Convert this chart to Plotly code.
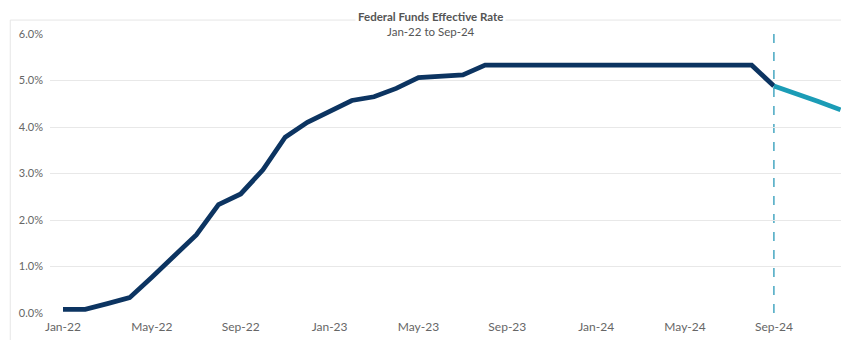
import plotly.graph_objects as go

months = ["Jan-22","Feb-22","Mar-22","Apr-22","May-22","Jun-22","Jul-22","Aug-22","Sep-22","Oct-22","Nov-22","Dec-22",
          "Jan-23","Feb-23","Mar-23","Apr-23","May-23","Jun-23","Jul-23","Aug-23","Sep-23","Oct-23","Nov-23","Dec-23",
          "Jan-24","Feb-24","Mar-24","Apr-24","May-24","Jun-24","Jul-24","Aug-24","Sep-24","Oct-24","Nov-24","Dec-24"]
actual = [0.08, 0.08, 0.20, 0.33, 0.77, 1.21, 1.68, 2.33, 2.56, 3.08, 3.78, 4.10,
          4.33, 4.57, 4.65, 4.83, 5.06, 5.08, 5.12, 5.33, 5.33, 5.33, 5.33, 5.33,
          5.33, 5.33, 5.33, 5.33, 5.33, 5.33, 5.33, 5.33, 4.88]
projected_months = ["Sep-24", "Oct-24", "Nov-24", "Dec-24"]
projected = [4.88, 4.72, 4.55, 4.37]
tick_labels = ["Jan-22","May-22","Sep-22","Jan-23","May-23","Sep-23","Jan-24","May-24","Sep-24"]
y_ticks = [0, 1, 2, 3, 4, 5, 6]

idx = {m: i for i, m in enumerate(months)}
FONT = "Lato"

fig = go.Figure()
fig.add_trace(go.Scatter(x=[idx[m] for m in months[:len(actual)]], y=actual, mode="lines",
                         line=dict(color="#0c3461", width=4.8), hoverinfo="skip"))
fig.add_trace(go.Scatter(x=[idx[m] for m in projected_months], y=projected, mode="lines",
                         line=dict(color="#1b9cb6", width=4.8), hoverinfo="skip"))

fig.add_shape(type="line", xref="x", yref="paper", x0=idx["Sep-24"], x1=idx["Sep-24"], y0=0, y1=1,
              line=dict(color="#2a9ab8", width=1.3, dash="dash"), layer="below")
# faint outer frame
fig.add_shape(type="rect", xref="paper", yref="paper", x0=-0.05, x1=1.004, y0=-0.2, y1=1.05,
              line=dict(color="#e6e6e6", width=1), layer="below")

fig.add_annotation(xref="paper", yref="paper", x=0.478, y=1.0, yanchor="bottom", yshift=-7,
                   text="<b>Federal Funds Effective Rate</b><br>Jan-22 to Sep-24",
                   showarrow=False, align="center", bgcolor="white",
                   font=dict(family=FONT, size=11.5, color="#555555"), borderpad=2)

fig.update_layout(
    width=841, height=332,
    margin=dict(l=42, r=4, t=26, b=27),
    plot_bgcolor="white", paper_bgcolor="white",
    showlegend=False,
    font=dict(family=FONT, color="#666666"),
    xaxis=dict(range=[-0.585, 35.2], tickvals=[idx[m] for m in tick_labels], ticktext=tick_labels,
               showgrid=False, zeroline=False, showline=False, ticks="",
               tickfont=dict(size=12, color="#666666"), ticklabelstandoff=5),
    yaxis=dict(range=[0, 6.0], tickvals=y_ticks, ticktext=[f"{v:.1f}%" for v in y_ticks],
               showgrid=True, gridcolor="#e8e8e8", gridwidth=1, zeroline=False, showline=False,
               ticks="", tickfont=dict(size=11, color="#666666"), ticklabelstandoff=6),
)

fig.write_html("out.html")
